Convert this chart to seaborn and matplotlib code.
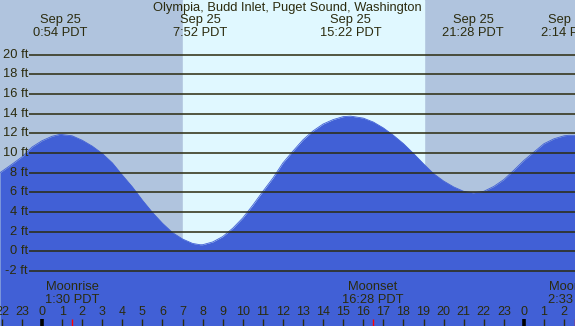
import matplotlib
matplotlib.use("Agg")
import matplotlib.pyplot as plt
import seaborn as sns
import pandas as pd

sns.set_style("white")
plt.rcParams['font.family'] = ['Liberation Sans', 'DejaVu Sans']

# ---- data (hours relative to midnight Sep 25, tide height in ft) ----
hours = [-2.09, -1.5, -1.0, -0.5, 0.0, 0.5, 0.9, 1.5, 2.0, 2.5, 3.0, 3.5, 4.0, 4.5,
         5.0, 5.5, 6.0, 6.5, 7.0, 7.5, 7.87, 8.0, 8.5, 9.0, 9.5, 10.0, 10.5, 11.0,
         11.5, 12.0, 12.5, 13.0, 13.5, 14.0, 14.5, 15.0, 15.37, 16.0, 16.5, 17.0,
         17.5, 18.0, 18.5, 19.0, 19.5, 20.0, 20.5, 21.0, 21.47, 22.0, 22.5, 23.0,
         23.5, 24.0, 24.5, 25.0, 25.5, 26.0, 26.23, 26.54]
heights = [8.0, 8.85, 9.6, 10.6, 11.25, 11.7, 11.9, 11.75, 11.3, 10.7, 9.95, 9.0, 7.75, 6.55,
           5.2, 3.95, 2.85, 1.9, 1.25, 0.8, 0.67, 0.67, 0.95, 1.5, 2.35, 3.4, 4.7, 6.1,
           7.45, 9.0, 10.2, 11.35, 12.25, 12.95, 13.4, 13.7, 13.75, 13.55, 13.15, 12.55,
           11.8, 10.95, 9.95, 8.9, 7.9, 7.15, 6.55, 6.1, 5.95, 6.1, 6.6, 7.3,
           8.25, 9.25, 10.1, 10.95, 11.45, 11.75, 11.8, 11.8]

extreme_hours = [0.9, 7.87, 15.37, 21.47, 26.23]
extreme_dates = ["Sep 25", "Sep 25", "Sep 25", "Sep 25", "Sep 26"]
extreme_times = ["0:54 PDT", "7:52 PDT", "15:22 PDT", "21:28 PDT", "2:14 PDT"]

sunrise, sunset = 7.02, 19.02
moon_hours = [1.5, 16.47, 26.55]
moon_names = ["Moonrise", "Moonset", "Moonrise"]
moon_times = ["1:30 PDT", "16:28 PDT", "2:33 PDT"]

ft_levels = list(range(-2, 21, 2))
hour_ticks = list(range(-2, 27))
title = "Olympia, Budd Inlet, Puget Sound, Washington"

# ---- layout ----
W, H = 575, 326
X0, XPH = 42.0, 20.08          # pixel of hour 0, pixels per hour
Y0, YPF = 251.3, 9.83          # pixel of 0 ft, pixels per ft
xmin, xmax = -X0 / XPH, (W - X0) / XPH
ymax, ymin = Y0 / YPF, (Y0 - H) / YPF

night = "#b0c4de"
day = "#e0f8ff"
water = "#4160d6"
ink = "#2b2b0e"
FS = 9.3

fig = plt.figure(figsize=(W / 100, H / 100), dpi=100)
ax = fig.add_axes([0, 0, 1, 1])
ax.set_xlim(xmin, xmax)
ax.set_ylim(ymin, ymax)
ax.set_facecolor(night)
ax.axis("off")
fig.patch.set_facecolor(night)

ax.axvspan(sunrise, sunset, color=day, zorder=0)

df = pd.DataFrame({"hour": hours, "ft": heights})
ax.fill_between(df["hour"], df["ft"], ymin, color=water, lw=0, zorder=1)
sns.lineplot(data=df, x="hour", y="ft", ax=ax, color=water, lw=0.6, zorder=1)


def fy(py):
    return 1 - py / H


line_start = (29 - X0) / XPH
for lv in ft_levels:
    ax.plot([line_start, xmax], [lv, lv], color=ink, lw=1.1, zorder=2, solid_capstyle="butt")
    ax.text(line_start - 0.05, lv, f"{lv} ft", ha="right", va="center",
            fontsize=FS, color=ink, zorder=3)

fig.text(0.5, fy(7.5), title, ha="center", va="center", fontsize=FS, color=ink)
for h_, d_, t_ in zip(extreme_hours, extreme_dates, extreme_times):
    x = (X0 + XPH * h_) / W
    fig.text(x, fy(19.5), d_, ha="center", va="center", fontsize=FS, color=ink)
    fig.text(x, fy(32.5), t_, ha="center", va="center", fontsize=FS, color=ink)

for h_, n_, t_ in zip(moon_hours, moon_names, moon_times):
    x = (X0 + XPH * h_) / W
    fig.text(x, fy(287.5), n_, ha="center", va="center", fontsize=FS, color=ink)
    fig.text(x, fy(300), t_, ha="center", va="center", fontsize=FS, color=ink)

tick_top = (Y0 - 318.5) / YPF
for h_ in hour_ticks:
    lab = str(h_ % 24)
    ax.text(h_, (Y0 - 312) / YPF, lab, ha="center", va="center", fontsize=9.0, color=ink, zorder=3)
    if h_ % 24 == 0:
        ax.plot([h_, h_], [tick_top, ymin], color="black", lw=2.6, solid_capstyle="butt", zorder=3)
    else:
        ax.plot([h_, h_], [tick_top, ymin], color=ink, lw=1.0, solid_capstyle="butt", zorder=3)
for h_ in moon_hours:
    ax.plot([h_, h_], [tick_top, ymin], color="red", lw=1.0, solid_capstyle="butt", zorder=3)

fig.savefig("out.png", dpi=100, facecolor=night)
